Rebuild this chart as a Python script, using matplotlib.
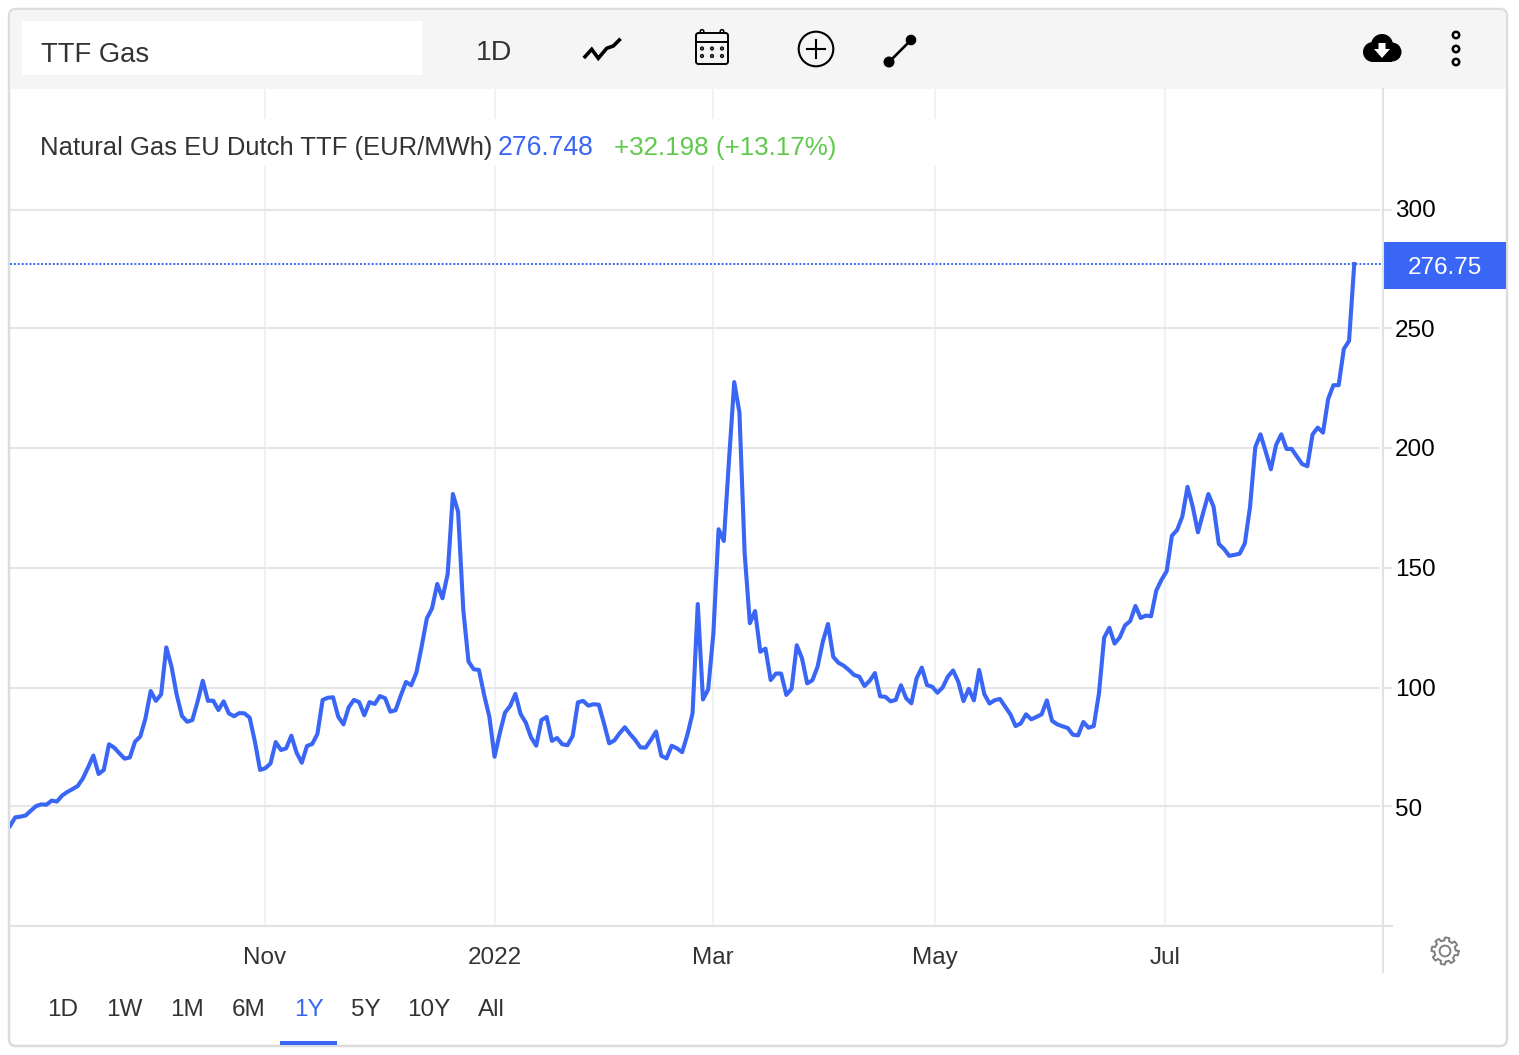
import numpy as np
import matplotlib
matplotlib.use("Agg")
import matplotlib.pyplot as plt
from matplotlib.patches import FancyBboxPatch, Rectangle, Circle, Polygon

plt.rcParams['font.family'] = ['Liberation Sans', 'DejaVu Sans']

title = "TTF Gas"
series_name = "Natural Gas EU Dutch TTF (EUR/MWh)"
last_value_text = "276.748"
change_text = "+32.198 (+13.17%)"
last_label = "276.75"
last_value = 276.748
range_labels = ["1D", "1W", "1M", "6M", "1Y", "5Y", "10Y", "All"]
y_ticks = [50, 100, 150, 200, 250, 300]
grid_levels = [50.6, 100, 150, 200, 250, 299.1]
x_tick_labels = ["Nov", "2022", "Mar", "May", "Jul"]
x_tick_pos = [48.9, 93.1, 134.9, 177.5, 221.7]

prices = [
 42.3,45.9,46.2,46.7,48.7,50.6,51.3,51.2,52.9,52.5,55.0,56.5,57.7,59.0,62.2,66.8,71.7,64.0,65.7,76.4,
 75.0,72.6,70.4,70.9,77.5,79.6,87.2,98.6,94.5,97.2,116.8,108.8,97.0,88.2,85.8,86.5,94.2,102.9,94.5,94.6,
 90.7,94.3,89.3,88.1,89.4,89.3,87.5,77.5,65.7,66.4,68.4,77.3,74.0,74.7,80.0,72.9,68.7,75.7,76.5,80.7,
 94.9,95.8,96.0,87.9,84.7,91.8,94.9,94.0,88.5,94.0,93.2,96.5,95.6,90.0,90.6,96.7,102.4,101.0,106.3,117.1,
 128.9,133.1,143.3,137.3,147.4,180.8,173.4,132.4,110.9,107.7,107.4,97.0,87.9,71.2,81.0,89.6,92.4,97.4,89.0,85.4,
 79.3,75.8,86.5,87.8,77.8,79.0,76.4,76.0,79.9,93.9,94.5,92.5,93.1,92.9,85.1,76.8,78.0,81.0,83.5,80.7,
 78.2,75.1,75.0,78.2,81.7,71.6,70.5,75.8,74.7,73.1,80.3,89.3,134.9,95.1,99.3,122.7,166.1,161.2,195.0,227.5,
 214.8,156.1,126.9,132.0,115.0,116.3,103.2,105.9,105.9,97.0,99.5,117.7,112.3,101.8,103.1,108.8,119.2,126.6,112.9,110.4,
 109.2,107.4,105.3,104.6,100.7,102.9,106.1,96.4,96.2,94.3,94.9,101.0,95.6,93.5,103.9,108.4,101.1,100.4,97.9,100.1,
 104.6,107.2,102.5,94.4,99.5,94.7,107.4,97.3,93.4,94.8,95.3,92.1,88.9,84.0,85.1,88.9,86.8,87.8,88.9,94.7,
 86.2,84.7,83.9,83.2,80.4,80.1,85.7,83.3,84.0,97.6,120.9,125.0,118.4,121.0,126.0,127.8,134.1,129.1,130.1,129.8,
 140.5,145.0,148.6,163.4,165.8,171.4,183.8,175.5,164.8,173.0,180.8,175.5,160.0,157.9,155.0,155.4,155.9,160.2,175.5,200.3,
 205.7,198.5,191.1,201.3,205.7,199.6,199.6,196.4,193.3,192.4,205.7,208.5,206.4,220.5,226.2,226.2,241.3,244.7,276.748,
]

W, H = 1519, 1055
BLUE = "#3a66f5"
DARK = "#333333"
GRID_H = "#e6e6e6"
GRID_V = "#f0f3f5"
fig = plt.figure(figsize=(W/100, H/100), dpi=100, facecolor="white")

def fx(px): return px / W
def fy(py): return 1 - py / H

# main chart axes
L, R, T, B = 10, 1383, 89, 926
ax = fig.add_axes([fx(L), fy(B), fx(R-L), (B-T)/H], zorder=2)
ax.patch.set_alpha(0)
PX_PER_UNIT = 2.397
ax.set_ylim(100 - (B-687.7)/PX_PER_UNIT, 100 + (687.7-T)/PX_PER_UNIT)
ax.set_xlim(0, (R-L)/5.2103)
for s in ax.spines.values():
    s.set_visible(False)
ax.yaxis.tick_right()
ax.set_yticks(y_ticks)
ax.set_xticks(x_tick_pos)
ax.set_xticklabels(x_tick_labels)
ax.tick_params(axis='both', length=0, labelsize=17.5)
ax.tick_params(axis='y', pad=8.7, labelcolor="#000000")
ax.tick_params(axis='x', pad=15, labelcolor=DARK)
ax.grid(axis='x', color=GRID_V, lw=1.5, zorder=0)
ax.set_axisbelow(True)
ytr = ax.get_yaxis_transform()
ax.hlines(grid_levels, 0, (1380-L)/(R-L), transform=ytr, color=GRID_H, lw=1.5, zorder=1)
ax.hlines(grid_levels, 1, (1392-L)/(R-L), transform=ytr, color=GRID_H, lw=1.5, zorder=1, clip_on=False)
ax.axhline(last_value, color=BLUE, lw=1.4, ls=(0, (1, 1.0)), zorder=2)
ax.plot(range(len(prices)), prices, color=BLUE, lw=2.95, solid_joinstyle='round', zorder=3)

# overlay in pixel coordinates for the surrounding interface
ui = fig.add_axes([0, 0, 1, 1], zorder=3)
ui.set_xlim(0, W); ui.set_ylim(H, 0); ui.axis('off'); ui.patch.set_alpha(0)
bg = fig.add_axes([0, 0, 1, 1], zorder=1)
bg.set_xlim(0, W); bg.set_ylim(H, 0); bg.axis('off')

bg.add_patch(FancyBboxPatch((9, 9), 1498, 1037, boxstyle="round,pad=0,rounding_size=7",
                            fc="white", ec="#dcdcdc", lw=1.8))
bg.add_patch(FancyBboxPatch((10, 10), 1496, 79, boxstyle="round,pad=0,rounding_size=6",
                            fc="#f5f5f5", ec="none"))
bg.add_patch(Rectangle((10, 60), 1496, 29, fc="#f5f5f5", ec="none"))
bg.add_patch(Rectangle((22, 21), 400, 54, fc="white", ec="none"))

# axis frame lines
ui.plot([1383, 1383], [89, 972], color="#e2e2e2", lw=1.5)
ui.plot([10, 1392], [926, 926], color="#e2e2e2", lw=1.5)

# header text with its white backing over the vertical grid lines
ui.add_patch(Rectangle((12, 119), 960, 46, fc="white", ec="none"))
ui.text(40, 148, series_name, fontsize=18.45, color=DARK, va='center', ha='left')
ui.text(498, 148, last_value_text, fontsize=19.1, color=BLUE, va='center', ha='left')
ui.text(614, 148, change_text, fontsize=18.75, color="#5ec94a", va='center', ha='left')

# toolbar
ui.text(41, 55.5, title, fontsize=19.7, color=DARK, va='center', ha='left')
ui.text(476, 53, "1D", fontsize=20.5, color=DARK, va='center', ha='left')

# line icon
ui.plot([585, 591.7, 598.3, 606.7, 613.3, 619.3], [56.7, 49.3, 58.3, 48.3, 46, 40],
        color="black", lw=2.6, solid_joinstyle='miter')
# calendar icon
ui.add_patch(FancyBboxPatch((696, 33), 32, 31, boxstyle="round,pad=0,rounding_size=2.5", fc="none", ec="black", lw=1.4))
ui.plot([696, 728], [42, 42], color="black", lw=1.4)
ui.add_patch(Circle((702, 31.5), 1.8, fc="none", ec="black", lw=1.1))
ui.add_patch(Circle((722, 31.5), 1.8, fc="none", ec="black", lw=1.1))
for cx in (702, 712, 722):
    for cy in (48.5, 56):
        ui.add_patch(Circle((cx, cy), 1.6, fc="#555555", ec="black", lw=0.7))
# plus icon
ui.add_patch(Circle((816, 49), 17.3, fc="none", ec="black", lw=1.5))
ui.plot([807, 825], [49, 49], color="black", lw=1.5)
ui.plot([816, 816], [40, 58], color="black", lw=1.5)
# segment icon
ui.plot([889, 911], [62, 40], color="black", lw=1.9)
ui.add_patch(Circle((889, 62), 5.5, fc="black", ec="none"))
ui.add_patch(Circle((911, 40), 5.3, fc="black", ec="none"))
# cloud download icon
for cx, cy, r in ((1373, 52, 10), (1382, 45, 11), (1392, 52, 9.5)):
    ui.add_patch(Circle((cx, cy), r, fc="black", ec="none"))
ui.add_patch(Rectangle((1373, 48), 19, 14, fc="black", ec="none"))
ui.add_patch(Polygon([(1378.5, 43), (1385.5, 43), (1385.5, 49), (1390, 49), (1382, 58), (1374, 49), (1378.5, 49)], fc="white", ec="none"))
# kebab icon
for cy in (35, 49, 62):
    ui.add_patch(Circle((1456, cy), 3.2, fc="none", ec="black", lw=1.8))

# last value label
ui.add_patch(Rectangle((1384, 242), 122, 47, fc=BLUE, ec="none"))
ui.text(1445, 268, last_label, fontsize=17.5, color="white", va='center', ha='center')

# range selector
range_x = [63, 124, 187, 249, 309, 366, 429, 491]
for lab, x in zip(range_labels, range_x):
    ui.text(x, 1010.5, lab, fontsize=17.5, color=BLUE if lab == "1Y" else DARK, va='center', ha='center')
ui.add_patch(Rectangle((280, 1041), 57, 4, fc=BLUE, ec="none"))

# gear icon
t = np.linspace(0, 2*np.pi, 97)
rad = 12.0 + 1.5*np.sign(np.sin(8*t + 0.3))
ui.plot(1445 + rad*np.cos(t), 951 + rad*np.sin(t), color="#808080", lw=1.4)
ui.add_patch(Circle((1445, 951), 5.4, fc="none", ec="#808080", lw=1.4))

fig.savefig("out.png", dpi=100, facecolor="white")
